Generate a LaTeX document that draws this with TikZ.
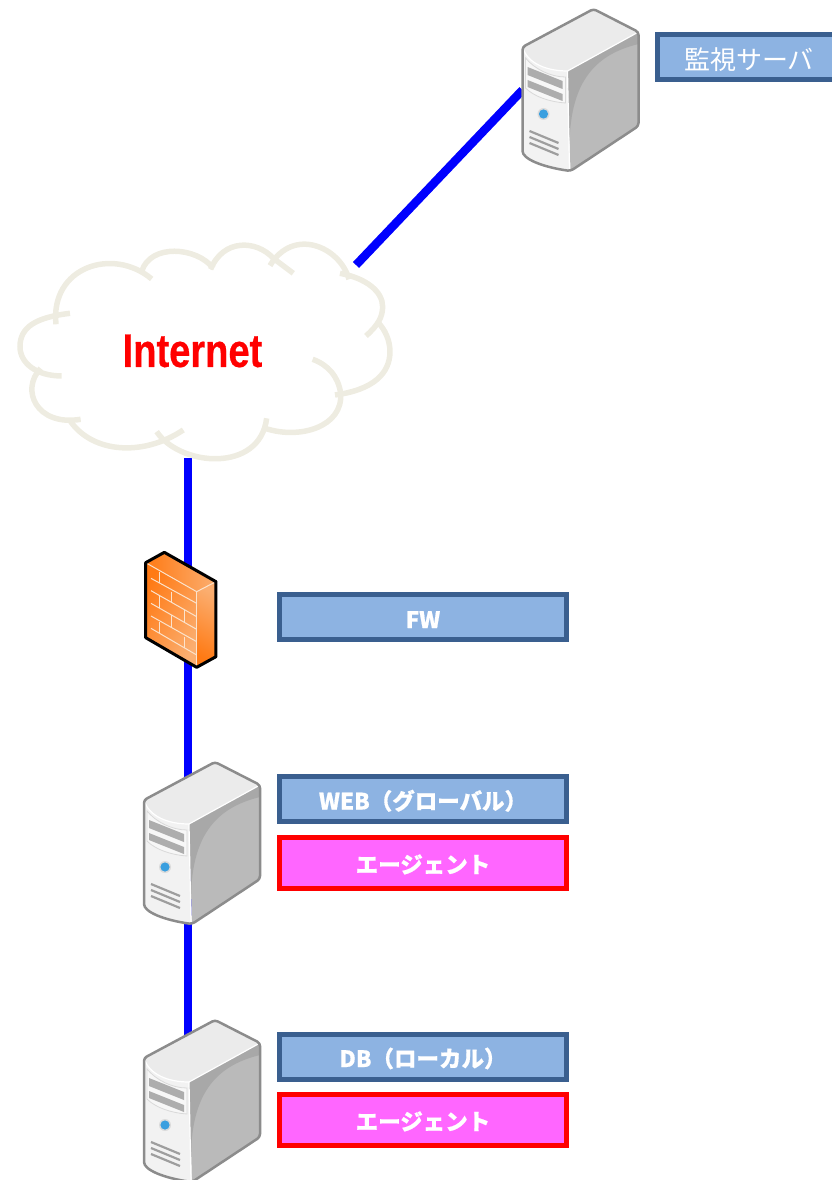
\documentclass[tikz,border=0pt]{standalone}
\usepackage{fontspec}
\setmainfont{Noto Sans CJK JP}[BoldFeatures={FakeBold=0.6}]
\newfontfamily\inetfont[FakeStretch=0.81,BoldFeatures={FakeBold=0.5}]{Liberation Sans}
\usetikzlibrary{positioning}
\definecolor{tagblue}{HTML}{8DB3E2}
\definecolor{tagedge}{HTML}{3A5F8F}
\definecolor{agentpink}{HTML}{FF66FF}
\definecolor{cloudline}{HTML}{EEECE1}
\definecolor{brickline}{HTML}{FBE3CC}
\definecolor{brickdark}{HTML}{FF7A14}
\definecolor{bricklight}{HTML}{FBAE70}
\tikzset{
  server/.pic={
    \fill[black!8] (0,38) -- (71,0) -- (116,23) -- (45,62) .. controls (25,62) and (5,55) .. (0,38) -- cycle;
    \fill[black!5] (0,38) .. controls (5,55) and (25,62) .. (45,62) -- (48,162) .. controls (20,158) and (0,150) .. (0,139) -- cycle;
    \fill[black!27] (45,62) -- (116,23) -- (116,117) -- (48,162) -- cycle;
    \fill[black!34] (45,62) -- (116,23) -- (116,35) .. controls (75,45) and (48,70) .. (47,135) -- cycle;
    \draw[white,line width=1.2pt] (0,38) .. controls (5,55) and (25,62) .. (45,62) -- (116,23);
    \draw[white,line width=1.2pt] (45,62) -- (47,162);
    \draw[black!15,fill=black!3,line width=.8pt] (3,49) .. controls (12,60) and (28,68) .. (43,68) -- (43,94) .. controls (28,93) and (12,88) .. (3,79) -- cycle;
    \fill[black!32] (5,58) -- (40,72) -- (40,80) -- (5,66) -- cycle;
    \fill[black!32] (5,71) -- (40,85) -- (40,92) -- (5,78) -- cycle;
    \fill[black!14] (21,105) circle (6);
    \fill[cyan!75!blue!80!white] (21,105) circle (4.6);
    \foreach \yy in {122,128,134}
      \draw[black!38,line width=2.2pt] (7,\yy) -- (36,\yy+12);
    \draw[black!45,line width=2.5pt,rounded corners=3pt,line join=round] (0,38) -- (71,0) -- (116,23) -- (116,117) -- (48,162) .. controls (20,158) and (0,150) .. (0,139) -- cycle;
  }
}
\begin{document}
\begin{tikzpicture}[x=1pt,y=-1pt]
  \tikzstyle{wire}=[draw=blue,line width=8.5pt]
  \tikzstyle{slot}=[minimum width=116pt,minimum height=162pt,outer sep=0pt]
  \tikzstyle{tagbox}=[draw=tagedge,fill=tagblue,line width=5pt,minimum width=287pt,minimum height=45pt,inner sep=0pt,outer sep=0pt,text=white,text height=21pt,text depth=0pt,font=\fontsize{22.5}{26}\selectfont\bfseries]
  \tikzstyle{agentbox}=[tagbox,draw=red,fill=agentpink,minimum height=51pt,text height=20pt]
  \tikzstyle{cloud}=[draw=cloudline,line width=5.5pt,line cap=butt]
  \useasboundingbox (0,0) rectangle (831,1180);
  \node [slot] (mon) at (580.5,90) {};
  \node [slot] (websrv) at (202,843) {};
  \node [slot] (dbsrv) at (202,1101) {};
  \node [minimum width=70pt,minimum height=115pt,outer sep=0pt] (fw) at (181,610) {};
  \node [text=red,font=\inetfont\fontsize{47}{50}\selectfont\bfseries,inner sep=0pt] (net) at (192.5,351) {Internet};
  \coordinate (cloudtop) at (356,265);
  \coordinate (cloudbot) at (188,458);
  \path[wire] (cloudtop) -- (mon.west);
  \path[wire] (cloudbot) -- (cloudbot |- fw.center);
  \path[wire] (cloudbot |- fw.center) -- (cloudbot |- websrv.center);
  \path[wire] (cloudbot |- websrv.center) -- (cloudbot |- dbsrv.center);
  \begin{scope}[x=0.3333pt,y=-0.3333pt,shift={(0,690)}]
    \draw[cloud] (168,283) .. controls (150,110) and (340,50) .. (455,147);
    \draw[cloud] (210,250) .. controls (110,262) and (60,290) .. (60,350) .. controls (60,400) and (110,438) .. (185,438);
    \draw[cloud] (122,415) .. controls (60,480) and (110,590) .. (242,568);
    \draw[cloud] (212,575) .. controls (280,670) and (430,680) .. (550,600);
    \draw[cloud] (470,605) .. controls (540,710) and (780,730) .. (800,565);
    \draw[cloud] (795,595) .. controls (900,630) and (1030,590) .. (1022,490) .. controls (1015,440) and (985,405) .. (938,388);
    \draw[cloud] (1005,495) .. controls (1120,480) and (1170,430) .. (1170,365) .. controls (1170,330) and (1155,300) .. (1135,278);
    \draw[cloud] (1098,318) .. controls (1135,285) and (1148,260) .. (1148,230) .. controls (1148,185) and (1100,145) .. (1020,130);
    \draw[cloud] (1047,148) .. controls (1020,50) and (880,-10) .. (810,107);
    \draw[cloud] (880,130) -- (820,85) .. controls (770,30) and (670,25) .. (632,118);
    \draw[cloud] (640,115) .. controls (590,50) and (450,40) .. (425,125);
  \end{scope}
  \begin{scope}[shift={(130,540)},x=0.3333pt,y=-0.3333pt]
    \shade[left color=brickdark,right color=bricklight] (47,68) -- (103,37) -- (258,125) -- (200,155) -- cycle;
    \shade[left color=brickdark,right color=bricklight,shading angle=60] (47,68) -- (200,155) -- (200,382) -- (47,293) -- cycle;
    \shade[top color=bricklight,bottom color=brickdark,shading angle=-30] (200,155) -- (258,125) -- (258,350) -- (200,382) -- cycle;
    \draw[brickline,line width=1pt] (47,68) -- (200,155) -- (258,125);
    \draw[brickline,line width=1pt] (200,155) -- (200,382);
    \foreach \ya/\yb in {115/190,152/230,190/268,228/305,265/345}
      \draw[brickline,line width=1pt] (63,\ya) -- (200,\yb);
    \foreach \xx/\ya/\yb in {88/95/130,125/155/190,88/168/205,163/210/245,125/225/260,88/245/280,163/290/325}
      \draw[brickline,line width=1pt] (\xx,\ya) -- (\xx,\yb);
    \draw[black,line width=3pt,line join=round] (47,68) -- (103,37) -- (258,125) -- (258,350) -- (200,382) -- (47,293) -- cycle;
  \end{scope}
  \pic at (522.5,9) {server};
  \pic at (144,762) {server};
  \pic at (144,1020) {server};
  \node [tagbox,minimum width=183pt,text height=25pt,font=\fontsize{26}{30}\selectfont] (montag) at (749,57.5) {監視サーバ};
  \node [tagbox,text height=22pt] (fwtag) at (423,617) {FW};
  \node [tagbox] (webtag) at (423,799) {WEB（グローバル）};
  \node [agentbox] (webagent) at (423,863) {エージェント};
  \node [tagbox] (dbtag) at (423,1056.5) {DB（ローカル）};
  \node [agentbox] (dbagent) at (423,1120) {エージェント};
\end{tikzpicture}
\end{document}
